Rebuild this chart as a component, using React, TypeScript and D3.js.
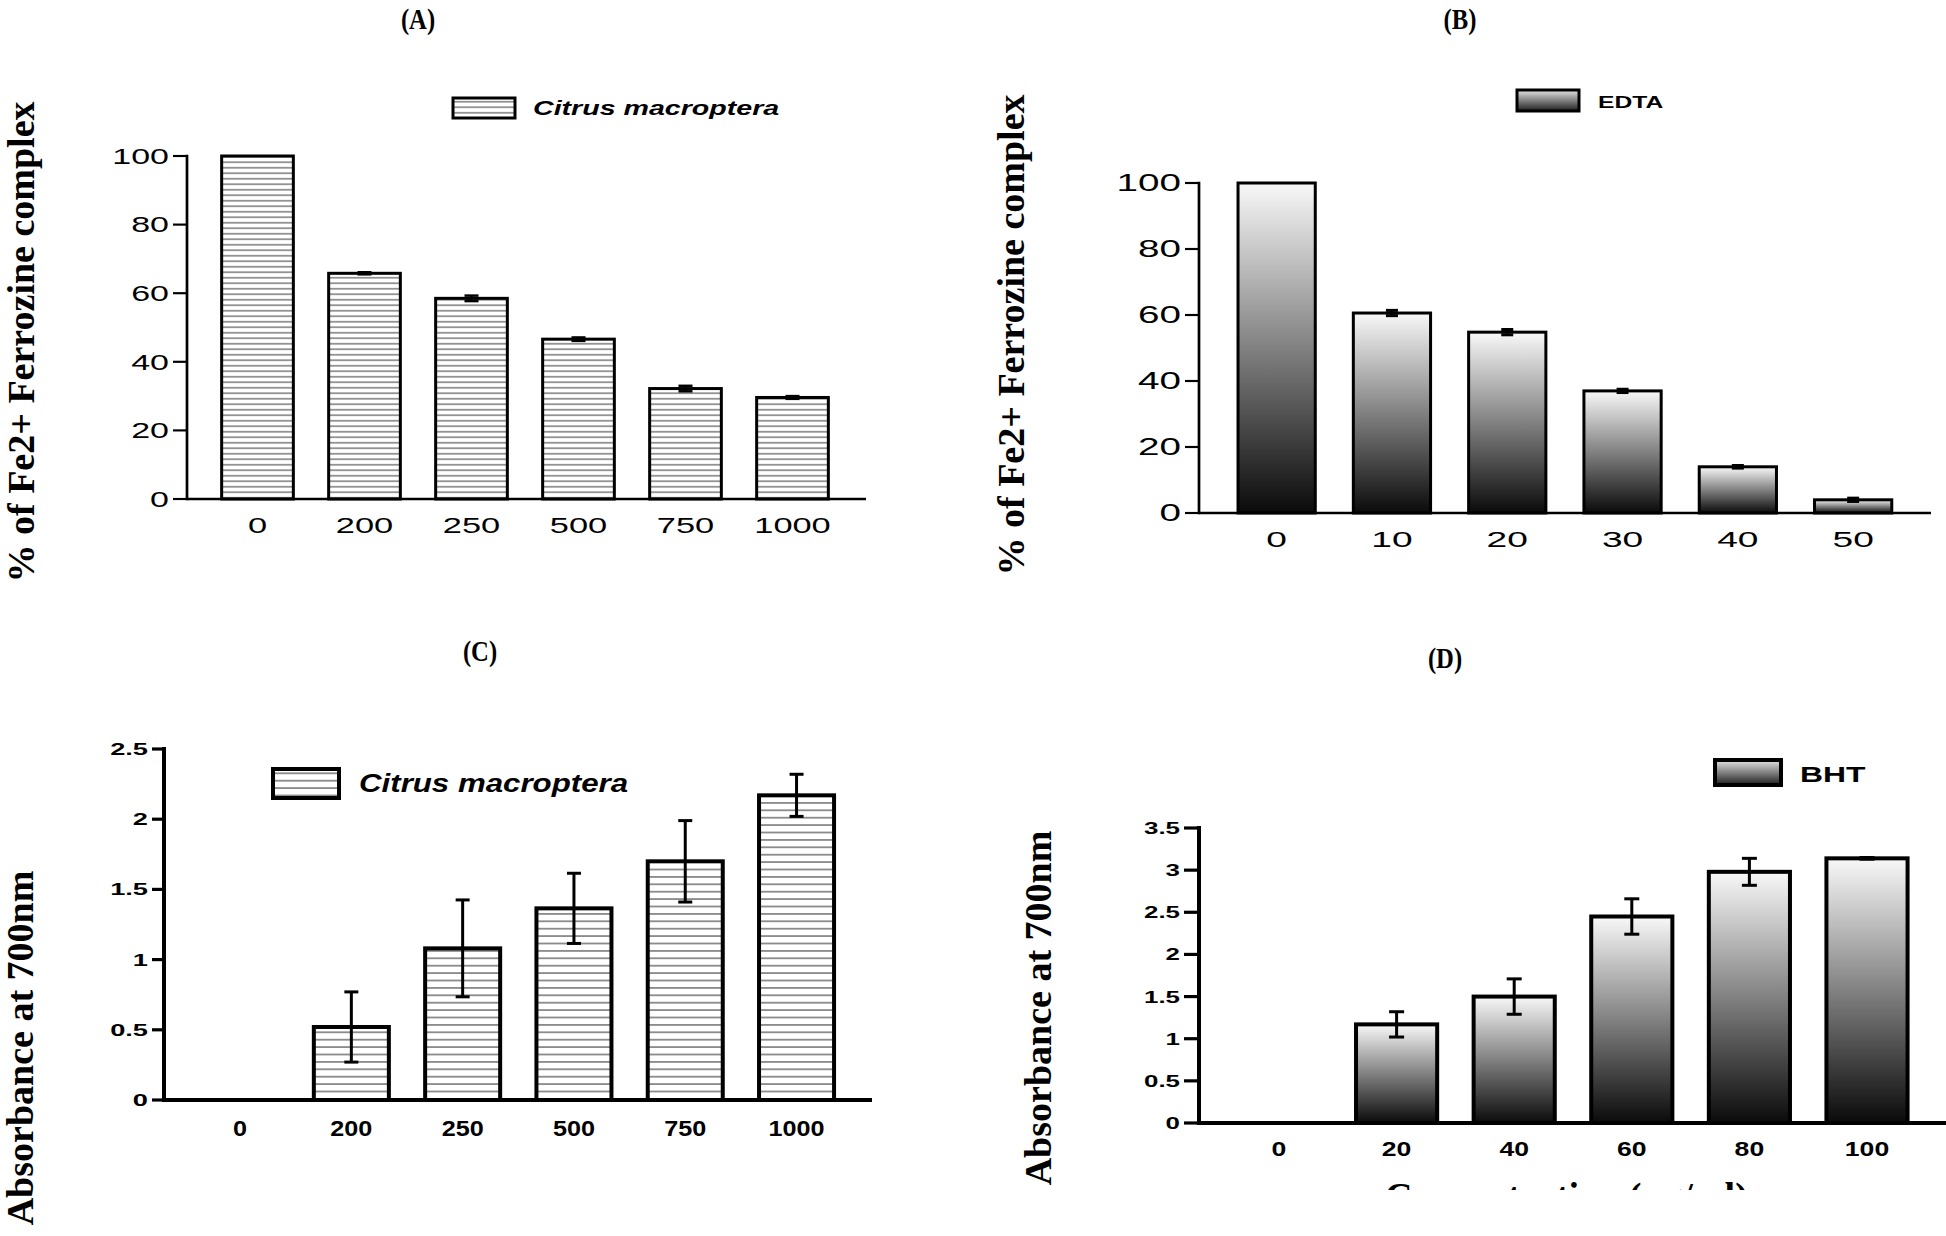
import React from 'react';
import * as d3 from 'd3';

// concentrations (x categories)
const concCitrus = ['0', '200', '250', '500', '750', '1000'];
const concEDTA = ['0', '10', '20', '30', '40', '50'];
const concBHT = ['0', '20', '40', '60', '80', '100'];

// (A) % of Fe2+ ferrozine complex, Citrus macroptera
const chelCitrus = [100, 65.8, 58.5, 46.6, 32.2, 29.6];
const chelCitrusErr = [0, 0.3, 0.8, 0.5, 0.8, 0.4];
// (B) % of Fe2+ ferrozine complex, EDTA
const chelEDTA = [100, 60.6, 54.8, 37.0, 14.0, 4.0];
const chelEDTAErr = [0, 0.8, 0.8, 0.5, 0.4, 0.5];
// (C) absorbance at 700nm, Citrus macroptera
const absCitrus = [0, 0.52, 1.08, 1.365, 1.7, 2.17];
const absCitrusErr = [0, 0.25, 0.345, 0.25, 0.29, 0.15];
// (D) absorbance at 700nm, BHT
const absBHT = [0, 1.17, 1.5, 2.45, 2.98, 3.14];
const absBHTErr = [0, 0.15, 0.21, 0.21, 0.16, 0.01];

const ticksPct = [0, 20, 40, 60, 80, 100];
const ticksAbsC = [0, 0.5, 1, 1.5, 2, 2.5];
const ticksAbsD = [0, 0.5, 1, 1.5, 2, 2.5, 3, 3.5];

const SANS = '"Liberation Sans", Arial, Helvetica, sans-serif';
const SERIF = '"Liberation Serif", "Times New Roman", serif';

type TxtProps = {
  x: number; y: number; sx?: number; size: number; anchor?: string;
  weight?: string; italic?: boolean; family?: string; children: React.ReactNode;
};

// text that is stretched horizontally like in the original figure
const SText = ({ x, y, sx = 1, size, anchor = 'middle', weight = 'normal', italic = false, family = SANS, children }: TxtProps) => (
  <text
    transform={`translate(${x},${y}) scale(${sx},1)`}
    textAnchor={anchor as any}
    fontSize={size}
    fontWeight={weight}
    fontStyle={italic ? 'italic' : 'normal'}
    fontFamily={family}
    fill="#000"
  >
    {children}
  </text>
);

type FontSpec = { size: number; sx: number; weight: string };

interface PanelProps {
  cats: string[];
  values: number[];
  errors: number[];
  ticks: number[];
  yMax: number;
  fill: string;
  axisX: number;
  yTop: number;
  yBottom: number;
  bandStart: number;
  step: number;
  padInner: number;
  axisEnd: number;
  axisWidth: number;
  barStroke: number;
  tickLen: number;
  tickFont: FontSpec;
  catFont: FontSpec;
  catY: number;
  capW: number;
  errWidth: number;
}

const BarPanel = (p: PanelProps) => {
  const n = p.cats.length;
  const x = d3.scaleBand<string>()
    .domain(p.cats)
    .range([p.bandStart, p.bandStart + p.step * n])
    .paddingInner(p.padInner)
    .paddingOuter(p.padInner / 2);
  const y = d3.scaleLinear().domain([0, p.yMax]).range([p.yBottom, p.yTop]);
  const bw = x.bandwidth();

  return (
    <g>
      {/* bars */}
      {p.cats.map((c, i) =>
        p.values[i] > 0 ? (
          <rect
            key={'b' + c}
            x={x(c)}
            y={y(p.values[i])}
            width={bw}
            height={y(0) - y(p.values[i])}
            fill={p.fill}
            stroke="#000"
            strokeWidth={p.barStroke}
          />
        ) : null
      )}
      {/* error bars */}
      {p.cats.map((c, i) => {
        if (!p.errors[i]) return null;
        const cx = (x(c) as number) + bw / 2;
        const hi = y(p.values[i] + p.errors[i]);
        const lo = y(p.values[i] - p.errors[i]);
        return (
          <g key={'e' + c} stroke="#000" strokeWidth={p.errWidth}>
            <line x1={cx} x2={cx} y1={hi} y2={lo} />
            <line x1={cx - p.capW / 2} x2={cx + p.capW / 2} y1={hi} y2={hi} />
            <line x1={cx - p.capW / 2} x2={cx + p.capW / 2} y1={lo} y2={lo} />
          </g>
        );
      })}
      {/* y axis */}
      <line x1={p.axisX} x2={p.axisX} y1={y(p.yMax)} y2={y(0)} stroke="#000" strokeWidth={p.axisWidth} strokeLinecap="square" />
      {p.ticks.map((t) => (
        <g key={'t' + t}>
          <line x1={p.axisX - p.tickLen} x2={p.axisX} y1={y(t)} y2={y(t)} stroke="#000" strokeWidth={p.axisWidth * 0.8} />
          <SText
            x={p.axisX - p.tickLen - 4}
            y={y(t) + p.tickFont.size * 0.36}
            sx={p.tickFont.sx}
            size={p.tickFont.size}
            anchor="end"
            weight={p.tickFont.weight}
          >
            {String(t)}
          </SText>
        </g>
      ))}
      {/* x axis */}
      <line x1={p.axisX} x2={p.axisEnd} y1={y(0)} y2={y(0)} stroke="#000" strokeWidth={p.axisWidth} />
      {p.cats.map((c) => (
        <SText
          key={'c' + c}
          x={(x(c) as number) + bw / 2}
          y={p.catY}
          sx={p.catFont.sx}
          size={p.catFont.size}
          weight={p.catFont.weight}
        >
          {c}
        </SText>
      ))}
    </g>
  );
};

const YLabel = ({ x, y, text }: { x: number; y: number; text: string }) => (
  <text
    transform={`translate(${x},${y}) rotate(-90)`}
    textAnchor="middle"
    fontFamily={SERIF}
    fontWeight="bold"
    fontSize={38}
    fill="#000"
  >
    {text}
  </text>
);

const Title = ({ x, y, text }: { x: number; y: number; text: string }) => (
  <SText x={x} y={y} sx={0.85} size={29} weight="bold" family={SERIF}>
    {text}
  </SText>
);

export default function App() {
  return (
    <div style={{ position: 'absolute', left: 0, top: 0 }}>
      <svg width={1946} height={1236} style={{ display: 'block', background: '#fff' }}>
        <defs>
          <pattern id="stripeA" width={10} height={5.5} patternUnits="userSpaceOnUse">
            <rect width={10} height={5.5} fill="#fff" />
            <line x1={0} x2={10} y1={2.75} y2={2.75} stroke="#666" strokeWidth={1.3} />
          </pattern>
          <pattern id="stripeC" width={10} height={7.4} patternUnits="userSpaceOnUse">
            <rect width={10} height={7.4} fill="#fff" />
            <line x1={0} x2={10} y1={3.7} y2={3.7} stroke="#666" strokeWidth={1.4} />
          </pattern>
          <linearGradient id="shade" x1={0} y1={0} x2={0} y2={1}>
            <stop offset="0%" stopColor="#f8f8f8" />
            <stop offset="100%" stopColor="#0a0a0a" />
          </linearGradient>
          <linearGradient id="shadeLegend" x1={0} y1={0} x2={0} y2={1}>
            <stop offset="0%" stopColor="#e4e4e4" />
            <stop offset="100%" stopColor="#1e1e1e" />
          </linearGradient>
          <clipPath id="cutLabel">
            <rect x={1300} y={1150} width={600} height={40} />
          </clipPath>
        </defs>

        {/* (A) */}
        <Title x={418} y={29} text="(A)" />
        <YLabel x={34} y={342} text="% of Fe2+ Ferrozine complex" />
        <rect x={453} y={98} width={62} height={20} fill="url(#stripeA)" stroke="#000" strokeWidth={3} />
        <SText x={533} y={115} sx={1.43} size={20} anchor="start" weight="bold" italic>
          Citrus macroptera
        </SText>
        <BarPanel
          cats={concCitrus}
          values={chelCitrus}
          errors={chelCitrusErr}
          ticks={ticksPct}
          yMax={100}
          fill="url(#stripeA)"
          axisX={187}
          yTop={156}
          yBottom={499}
          bandStart={204}
          step={107}
          padInner={0.33}
          axisEnd={866}
          axisWidth={2.7}
          barStroke={3}
          tickLen={14}
          tickFont={{ size: 21.5, sx: 1.58, weight: 'normal' }}
          catFont={{ size: 21.5, sx: 1.6, weight: 'normal' }}
          catY={533}
          capW={14}
          errWidth={2.5}
        />

        {/* (B) */}
        <Title x={1460} y={29} text="(B)" />
        <YLabel x={1024} y={335} text="% of Fe2+ Ferrozine complex" />
        <rect x={1517} y={90} width={62} height={21} fill="url(#shadeLegend)" stroke="#000" strokeWidth={3} />
        <SText x={1598} y={108} sx={1.45} size={17} anchor="start" weight="bold">
          EDTA
        </SText>
        <BarPanel
          cats={concEDTA}
          values={chelEDTA}
          errors={chelEDTAErr}
          ticks={ticksPct}
          yMax={100}
          fill="url(#shade)"
          axisX={1199}
          yTop={183}
          yBottom={513}
          bandStart={1219}
          step={115.3}
          padInner={0.33}
          axisEnd={1931}
          axisWidth={2.7}
          barStroke={3}
          tickLen={14}
          tickFont={{ size: 23, sx: 1.68, weight: 'normal' }}
          catFont={{ size: 22.5, sx: 1.65, weight: 'normal' }}
          catY={547}
          capW={12}
          errWidth={3}
        />

        {/* (C) */}
        <Title x={480} y={661} text="(C)" />
        <YLabel x={33} y={1048} text="Absorbance at 700nm" />
        <rect x={273} y={769} width={66} height={29} fill="url(#stripeC)" stroke="#000" strokeWidth={4} />
        <SText x={359} y={792} sx={1.25} size={25} anchor="start" weight="bold" italic>
          Citrus macroptera
        </SText>
        <BarPanel
          cats={concCitrus}
          values={absCitrus}
          errors={absCitrusErr}
          ticks={ticksAbsC}
          yMax={2.5}
          fill="url(#stripeC)"
          axisX={164}
          yTop={749}
          yBottom={1100}
          bandStart={184.4}
          step={111.3}
          padInner={0.326}
          axisEnd={872}
          axisWidth={4}
          barStroke={4}
          tickLen={12}
          tickFont={{ size: 16.5, sx: 1.65, weight: 'bold' }}
          catFont={{ size: 22.5, sx: 1.12, weight: 'bold' }}
          catY={1136}
          capW={14}
          errWidth={3}
        />

        {/* (D) */}
        <Title x={1445} y={668} text="(D)" />
        <YLabel x={1051} y={1008} text="Absorbance at 700nm" />
        <rect x={1715} y={760} width={66} height={25} fill="url(#shadeLegend)" stroke="#000" strokeWidth={4} />
        <SText x={1800} y={782} sx={1.45} size={22} anchor="start" weight="bold">
          BHT
        </SText>
        <BarPanel
          cats={concBHT}
          values={absBHT}
          errors={absBHTErr}
          ticks={ticksAbsD}
          yMax={3.5}
          fill="url(#shade)"
          axisX={1199}
          yTop={828}
          yBottom={1123}
          bandStart={1220.2}
          step={117.6}
          padInner={0.31}
          axisEnd={1946}
          axisWidth={4}
          barStroke={4}
          tickLen={15}
          tickFont={{ size: 16.5, sx: 1.57, weight: 'bold' }}
          catFont={{ size: 20, sx: 1.33, weight: 'bold' }}
          catY={1156}
          capW={15}
          errWidth={3}
        />
        <g clipPath="url(#cutLabel)">
          <text x={1385} y={1209} fontFamily={SERIF} fontWeight="bold" fontSize={38} fill="#000">
            Concentration (µg/ml)
          </text>
        </g>
      </svg>
    </div>
  );
}
